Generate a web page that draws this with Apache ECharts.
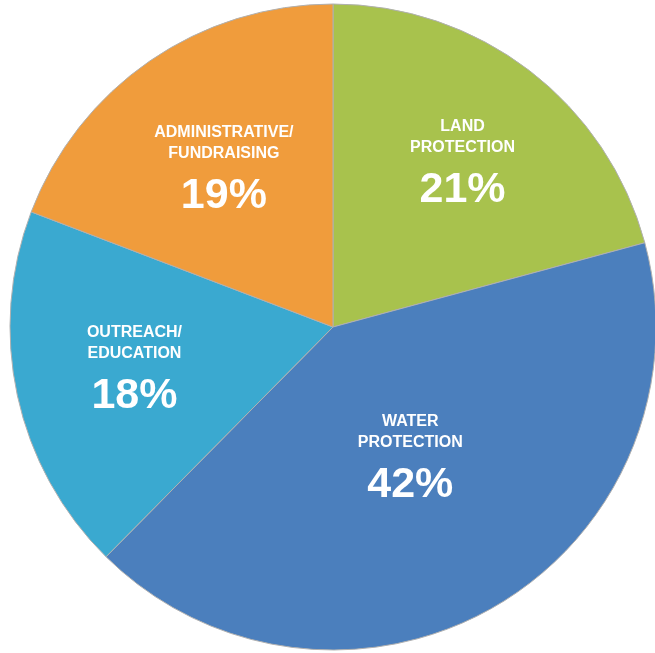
<!DOCTYPE html>
<html>
<head>
<meta charset="utf-8">
<script src="https://cdn.jsdelivr.net/npm/echarts@6/dist/echarts.min.js"></script>
<style>
html,body{margin:0;padding:0;background:#fff;}
#chart{width:655px;height:653px;}
</style>
</head>
<body>
<div id="chart"></div>
<script>
var categories = ['LAND\nPROTECTION', 'WATER\nPROTECTION', 'OUTREACH/\nEDUCATION', 'ADMINISTRATIVE/\nFUNDRAISING'];
var values = [20.8, 41.6, 18.4, 19.2];
var colors = ['#A8C24D', '#4B7FBD', '#3AA9D0', '#F09C3C'];
var labelRadiusFrac = [0.645, 0.475, 0.629, 0.591];
var labelAngleShiftDeg = [1.0, 0, 0, -0.3];

var CX = 333, CY = 327, R = 323;

var chart = echarts.init(document.getElementById('chart'), null, {renderer: 'canvas'});
var total = values.reduce(function(a, b){ return a + b; }, 0);
var cum = [];
(function(){ var s = 0; for (var i = 0; i < values.length; i++){ cum.push(s + values[i] / 2); s += values[i]; } })();

var FONT = 'Liberation Sans, Arial, sans-serif';

chart.setOption({
  animation: false,
  series: [{
    type: 'pie',
    center: [CX, CY],
    radius: [0, R],
    startAngle: 90,
    clockwise: true,
    silent: true,
    itemStyle: { borderColor: '#b0b0b0', borderWidth: 1 },
    label: {
      show: true,
      position: 'inside',
      color: '#ffffff',
      fontFamily: FONT,
      fontWeight: 'bold',
      formatter: function(p){ return '{t|' + p.name.split('\n').join('}\n{t|') + '}\n{g|}\n{p|' + Math.round(p.value) + '%}'; },
      rich: {
        t: { fontSize: 16, fontWeight: 'bold', color: '#fff', lineHeight: 21, fontFamily: FONT },
        g: { fontSize: 6, lineHeight: 10 },
        p: { fontSize: 43, fontWeight: 'bold', color: '#fff', lineHeight: 44, fontFamily: FONT }
      }
    },
    labelLine: { show: false },
    labelLayout: function(params){
      var i = params.dataIndex;
      var ang = cum[i] / total * 2 * Math.PI + labelAngleShiftDeg[i] * Math.PI / 180;
      var r = labelRadiusFrac[i] * R;
      return { x: CX + r * Math.sin(ang), y: CY - r * Math.cos(ang) };
    },
    data: categories.map(function(c, i){ return { name: c, value: values[i], itemStyle: { color: colors[i] } }; })
  }]
});
</script>
</body>
</html>
